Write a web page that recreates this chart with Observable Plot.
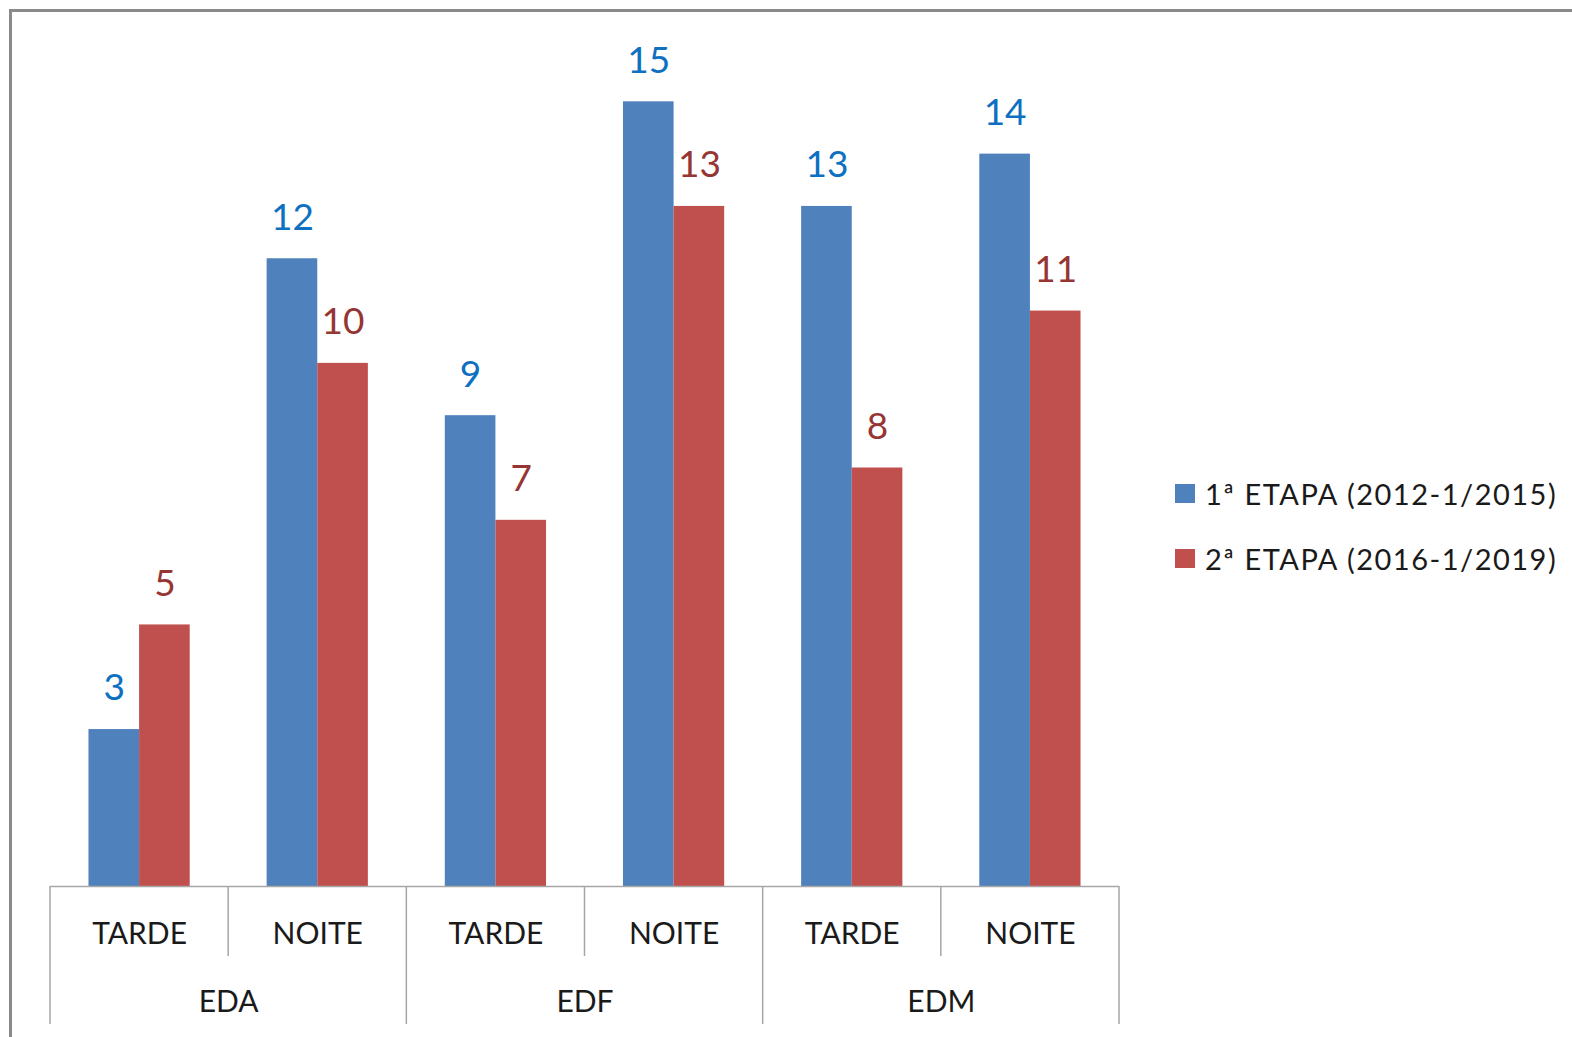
<!DOCTYPE html>
<html><head><meta charset="utf-8">
<script src="https://cdn.jsdelivr.net/npm/d3@7"></script>
<script src="https://cdn.jsdelivr.net/npm/@observablehq/plot@0.6"></script>
<style>
html,body{margin:0;padding:0;background:#fff;}
#wrap{position:relative;width:1572px;height:1037px;overflow:hidden;font-family:Lato,"Open Sans",sans-serif;}
#frame{position:absolute;left:9px;top:9px;width:1700px;height:1200px;border-top:3px solid #8a8a8a;border-left:3px solid #8a8a8a;box-sizing:border-box;}
#chart{position:absolute;left:0;top:0;}
.lg{position:absolute;left:1175px;height:40px;display:flex;align-items:center;font-size:29px;letter-spacing:1.5px;color:#1a1a1a;white-space:nowrap;}
.lg span.sw{display:inline-block;width:20px;height:19px;margin-right:10px;}
</style></head>
<body>
<div id="wrap"><div id="frame"></div><div id="chart"></div><div id="legend"></div></div>
<script>
const groups = ["EDA", "EDF", "EDM"];
const shifts = ["TARDE", "NOITE"];
const series = ["1ª ETAPA (2012-1/2015)", "2ª ETAPA (2016-1/2019)"];
const etapa1 = [3, 12, 9, 15, 13, 14];
const etapa2 = [5, 10, 7, 13, 8, 11];
const barColors = ["#4F81BD", "#C0504D"];
const labelColors = ["#0E70C0", "#963634"];

const cats = groups.flatMap(g => shifts.map(s => ({key: g + " " + s, group: g, shift: s})));
const keys = cats.map(c => c.key);
const rows = cats.flatMap((c, i) => [
  {key: c.key, series: series[0], value: etapa1[i]},
  {key: c.key, series: series[1], value: etapa2[i]}
]);
const groupRows = groups.map(g => ({group: g, key: g + " " + shifts[0]}));

const marginLeft = 50;
const sepColor = "#A6A6A6";
let sepDrawn = false;
const separators = (index, scales, values, dims) => {
  if (sepDrawn) return null; // function marks are repeated per facet; draw once
  sepDrawn = true;
  const fx = scales.fx;
  const off = fx(keys[0]) - marginLeft; // translation of the first facet group
  const y0 = scales.y(0);
  const g = d3.create("svg:g").attr("stroke", sepColor).attr("stroke-width", 1.5);
  keys.forEach((k, i) => {
    const x = fx(k) - off;
    g.append("line").attr("x1", x).attr("x2", x).attr("y1", y0).attr("y2", y0 + (i % 2 === 0 ? 138 : 70));
  });
  const xr = fx(keys[keys.length - 1]) + fx.bandwidth() - off;
  g.append("line").attr("x1", xr).attr("x2", xr).attr("y1", y0).attr("y2", y0 + 138);
  return g.node();
};

const chart = Plot.plot({
  width: 1572, height: 1037,
  marginLeft, marginRight: 453, marginTop: 49, marginBottom: 151,
  style: {fontFamily: "Lato, 'Open Sans', sans-serif", background: "transparent", overflow: "visible"},
  fx: {domain: keys, padding: 0, round: false, axis: null},
  x: {domain: series, paddingInner: 0, paddingOuter: 0.76, round: false, axis: null},
  y: {domain: [0, 16], axis: null},
  marks: [
    ...series.map((s, j) => Plot.barY(rows.filter(d => d.series === s), {fx: "key", x: "series", y: "value", fill: barColors[j]})),
    ...series.map((s, j) => Plot.text(rows.filter(d => d.series === s), {fx: "key", x: "series", y: "value", text: "value", fill: labelColors[j], fontSize: 37, dy: -41, lineAnchor: "middle"})),
    Plot.ruleY([0], {stroke: sepColor, strokeWidth: 1.5}),
    Plot.text(cats, {fx: "key", frameAnchor: "bottom", text: "shift", dy: 48, fontSize: 30, fill: "#1a1a1a", lineAnchor: "middle"}),
    Plot.text(groupRows, {fx: "key", frameAnchor: "bottom-right", text: "group", textAnchor: "middle", dy: 116, fontSize: 30, fill: "#1a1a1a", lineAnchor: "middle"}),
    separators
  ]
});
document.getElementById("chart").appendChild(chart);

const legend = document.getElementById("legend");
const tops = [473, 538];
series.forEach((s, j) => {
  const div = document.createElement("div");
  div.className = "lg";
  div.style.top = tops[j] + "px";
  const sw = document.createElement("span");
  sw.className = "sw";
  sw.style.background = barColors[j];
  div.appendChild(sw);
  div.appendChild(document.createTextNode(s));
  legend.appendChild(div);
});
</script>
</body></html>
